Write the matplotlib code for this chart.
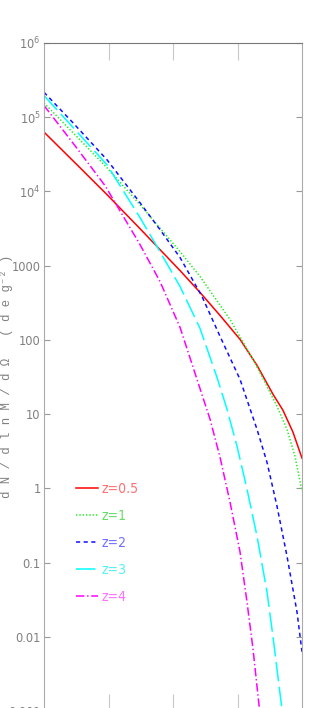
import numpy as np
import matplotlib
matplotlib.use("Agg")
import matplotlib.pyplot as plt
from matplotlib.ticker import FixedLocator, FixedFormatter, NullLocator

# ---------------- data ----------------
labels = ["z=0.5", "z=1", "z=2", "z=3", "z=4"]

logM_z05 = [12.000, 12.558, 12.977, 13.488, 13.798, 14.109, 14.419, 14.729, 15.039, 15.302, 15.550, 15.705, 15.860, 16.000]
dN_z05   = [6.31e4, 2.09e4, 9.06e3, 3.16e3, 1.65e3, 861, 437, 214, 102, 45.6, 18.6, 11.3, 5.73, 2.56]

logM_z1 = [12.000, 12.977, 13.488, 14.109, 14.419, 14.884, 15.240, 15.426, 15.612, 15.767, 15.891, 16.000]
dN_z1   = [1.56e5, 2.09e4, 6.65e3, 1.55e3, 716, 189, 54.8, 26.9, 12.8, 6.28, 2.72, 0.92]

logM_z2 = [12.000, 12.450, 12.977, 13.488, 13.798, 14.109, 14.450, 14.729, 15.039, 15.302, 15.457, 15.612, 15.767, 15.922, 16.000]
dN_z2   = [2.17e5, 8.41e4, 2.67e4, 7.06e3, 3.07e3, 1.29e3, 385, 112, 29.5, 6.28, 2.26, 0.579, 0.123, 0.0218, 0.00632]

logM_z3 = [12.000, 12.977, 13.488, 13.798, 14.109, 14.419, 14.682, 14.837, 14.992, 15.147, 15.302, 15.457, 15.550, 15.690]
dN_z3   = [1.96e5, 2.29e4, 4.45e3, 1.55e3, 525, 143, 31.4, 11.7, 3.72, 0.982, 0.229, 0.0406, 0.0101, 0.00105]

logM_z4 = [12.000, 12.481, 12.946, 13.488, 13.798, 14.109, 14.372, 14.574, 14.729, 14.884, 15.039, 15.147, 15.240, 15.341]
dN_z4   = [1.44e5, 4.13e4, 1.20e4, 1.93e3, 614, 148, 29.5, 8.57, 2.64, 0.656, 0.140, 0.0297, 0.00693, 0.00105]

ytick_vals = [1e-3, 1e-2, 1e-1, 1, 10, 100, 1000, 1e4, 1e5, 1e6]
ytick_labels = ["0.001", "0.01", "0.1", "1", "10", "100", "1000",
                r"$\mathregular{10^{4}}$", r"$\mathregular{10^{5}}$", r"$\mathregular{10^{6}}$"]
xtick_vals = [1e13, 1e14, 1e15]

ylabel_text = "d N / d l n M / d Ω   ( d e g⁻² )"

# ---------------- style ----------------
plt.rcParams["lines.scale_dashes"] = False
plt.rcParams["font.family"] = ["DejaVu Sans"]
plt.rcParams["font.stretch"] = "condensed"
plt.rcParams["mathtext.fontset"] = "custom"
plt.rcParams["mathtext.rm"] = "DejaVu Sans:stretch=condensed"

series = [
    (logM_z05, dN_z05, "#ff0000", "#ff7070", "-"),
    (logM_z1,  dN_z1,  "#22ee22", "#66dd66", (0, (1.0, 1.4))),
    (logM_z2,  dN_z2,  "#1010ff", "#7070ff", (0, (3.0, 2.5))),
    (logM_z3,  dN_z3,  "#00ffff", "#55f0f0", (0, (14, 4))),
    (logM_z4,  dN_z4,  "#ff00ff", "#ff70ff", (0, (6, 2, 1, 2))),
]

W, H = 319, 708
fig = plt.figure(figsize=(W / 100, H / 100), dpi=100)
top_px, bot_px, left_px, right_px = 43, 711.2, 44, 302
ax = fig.add_axes([left_px / W, (H - bot_px) / H, (right_px - left_px) / W, (bot_px - top_px) / H])

handles = []
for lm, dn, c, tc, ls in series:
    ln, = ax.plot(10 ** np.array(lm), dn, color=c, lw=1.1, linestyle=ls)
    handles.append(ln)

ax.set_xscale("log")
ax.set_yscale("log")
ax.set_xlim(1e12, 1e16)
ax.set_ylim(1e-3, 1e6)

ax.xaxis.set_major_locator(FixedLocator(xtick_vals))
ax.xaxis.set_minor_locator(NullLocator())
ax.yaxis.set_major_locator(FixedLocator(ytick_vals))
ax.yaxis.set_major_formatter(FixedFormatter(ytick_labels))
ax.yaxis.set_minor_locator(NullLocator())

ax.tick_params(axis="x", which="major", direction="in", length=12.2, width=0.8,
               color="#c8c8c8", top=True, bottom=True, labelbottom=False)
ax.tick_params(axis="y", which="major", direction="in", length=4.3, width=0.8,
               color="#999999", left=True, right=True, labelsize=9.2,
               labelcolor="#808080", pad=2.4)

for side, col in [("left", "#aaaaaa"), ("right", "#aaaaaa"), ("top", "#777777"), ("bottom", "#aaaaaa")]:
    ax.spines[side].set_color(col)
    ax.spines[side].set_linewidth(0.8)

# y axis label (letter-spaced as in the original)
fig.text(6.9 / W, 1 - 376 / H, ylabel_text,
         rotation=90, ha="center", va="center", color="#808080",
         family=["Liberation Mono", "DejaVu Sans Mono"], fontsize=8.8)

leg = ax.legend(handles, labels, loc="upper left",
                bbox_to_anchor=((76 - left_px) / (right_px - left_px), (bot_px - 482) / (bot_px - top_px)),
                frameon=False, handlelength=1.55, handletextpad=0.25, labelspacing=0.93,
                borderpad=0, borderaxespad=0, fontsize=10,
                labelcolor=[s[3] for s in series])

fig.savefig("out.png", dpi=100)
